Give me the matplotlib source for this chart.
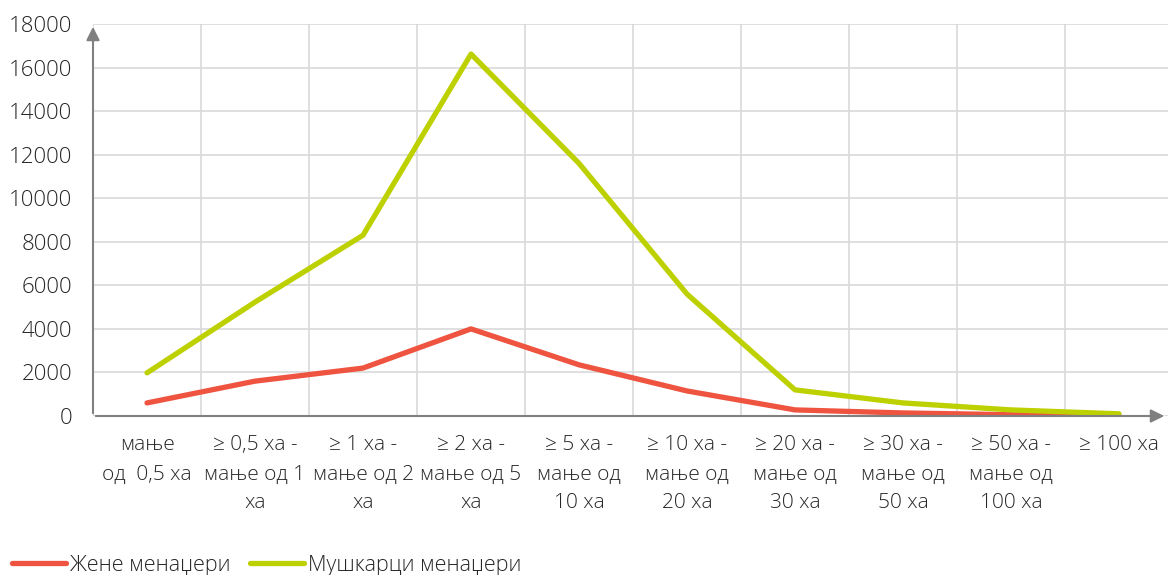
import matplotlib
matplotlib.use("Agg")
import matplotlib.pyplot as plt
import numpy as np

plt.rcParams['font.family'] = ['Open Sans', 'DejaVu Sans']

# категорије величине газдинства
kategorije = [
    "мање\nод  0,5 ха",
    "≥ 0,5 ха -\nмање од 1\nха",
    "≥ 1 ха -\nмање од 2\nха",
    "≥ 2 ха -\nмање од 5\nха",
    "≥ 5 ха -\nмање од\n10 ха",
    "≥ 10 ха -\nмање од\n20 ха",
    "≥ 20 ха -\nмање од\n30 ха",
    "≥ 30 ха -\nмање од\n50 ха",
    "≥ 50 ха -\nмање од\n100 ха",
    "≥ 100 ха",
]
zene = [600, 1600, 2200, 4000, 2350, 1150, 280, 140, 60, 20]
muskarci = [1980, 5230, 8300, 16620, 11600, 5600, 1200, 600, 280, 100]

crvena = "#EF5440"
zelena = "#BDD000"
siva = "#808080"
tekst = "#262626"

fig = plt.figure(figsize=(11.68, 5.75), dpi=100)
ax = fig.add_axes([93 / 1168, 1 - 416 / 575, 1080 / 1168, 392 / 575])

x = np.arange(len(kategorije))
ax.plot(x, zene, color=crvena, lw=3.8, solid_capstyle='round', label="Жене менаџери", zorder=3)
ax.plot(x, muskarci, color=zelena, lw=3.8, solid_capstyle='round', label="Мушкарци менаџери", zorder=3)

ax.set_xlim(-0.5, len(kategorije) - 0.5)
ax.set_ylim(0, 18000)
ax.set_yticks(np.arange(0, 18001, 2000))
ax.set_xticks(x)
ax.set_xticklabels(kategorije, fontsize=15, color=tekst, linespacing=1.6, va='top',
                   fontweight='light')
ax.set_xticks(np.arange(-0.5, len(kategorije)), minor=True)
ax.tick_params(axis='y', labelsize=16, colors=tekst, length=0, pad=15)
ax.tick_params(axis='x', which='both', length=0, pad=14)
for t in ax.get_yticklabels():
    t.set_fontweight('light')

ax.grid(axis='y', color="#D9D9D9", lw=1.2)
ax.grid(axis='x', which='minor', color="#D9D9D9", lw=1.2)
ax.set_axisbelow(True)
for s in ax.spines.values():
    s.set_visible(False)

# стрелице на осама
ax.annotate("", xy=(0, 1.0), xytext=(0, 0), xycoords='axes fraction',
            arrowprops=dict(arrowstyle='-|>', color=siva, lw=1.5, mutation_scale=20),
            annotation_clip=False, zorder=4)
ax.annotate("", xy=(1167 / 1080 - 93 / 1080, 0), xytext=(0, 0), xycoords='axes fraction',
            arrowprops=dict(arrowstyle='-|>', color=siva, lw=1.5, mutation_scale=20),
            annotation_clip=False, zorder=4)

fig.legend(loc='lower left', bbox_to_anchor=(-0.006, -0.035), ncol=2, frameon=False,
           prop={'size': 15.5, 'weight': 'light'}, handlelength=2.5, handletextpad=0.2,
           columnspacing=0.9, labelcolor=tekst)

fig.savefig("out.png", dpi=100)
